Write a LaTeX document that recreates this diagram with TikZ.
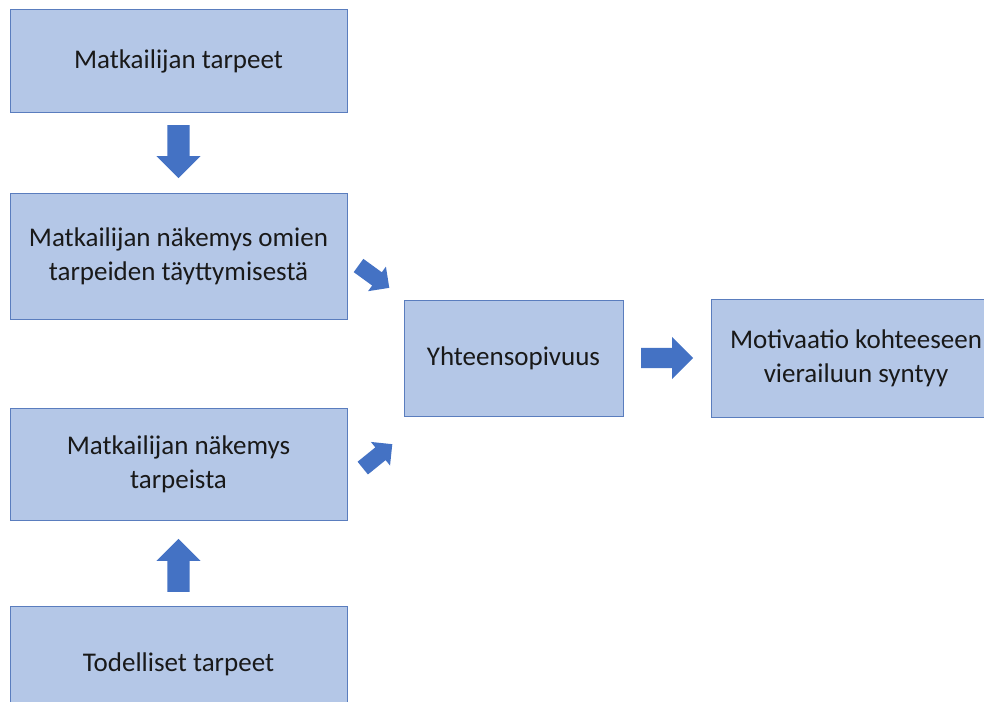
\documentclass[tikz,border=0pt]{standalone}
\usepackage{fontspec}
\setmainfont{Carlito}
\usetikzlibrary{shapes.arrows, positioning, calc}

\definecolor{boxfill}{HTML}{B4C7E7}
\definecolor{boxline}{HTML}{5A7DBE}
\definecolor{arrowfill}{HTML}{4472C4}

\begin{document}
\begin{tikzpicture}[
    x=1pt, y=-1pt,
    box/.style={
        rectangle,
        draw=boxline,
        line width=1pt,
        align=center,
        inner sep=0pt,
        minimum width=337pt,
        fill=boxfill,
        text=black!90,
        font=\fontsize{27}{34}\selectfont
    },
    bigarrow/.style={
        single arrow,
        fill=arrowfill,
        anchor=tip,
        inner xsep=0pt,
        inner ysep=11pt,
        minimum height=53pt,
        single arrow head extend=11pt
    },
    smallarrow/.style={
        bigarrow,
        inner ysep=8pt,
        minimum height=38pt,
        single arrow head extend=7pt
    }
]

\clip (0,0) rectangle (984,701);

\node[box, minimum height=102pt] (tarpeet) at (178.5,61) {Matkailijan tarpeet};
\node[box, minimum height=126pt, below=80pt of tarpeet] (omien) {Matkailijan näkemys omien\\tarpeiden täyttymisestä};
\node[box, minimum height=112pt, below=88pt of omien] (nakemys) {Matkailijan näkemys\\tarpeista};
\node[box, minimum height=117pt, below=85pt of nakemys] (todelliset) {Todelliset tarpeet};
\node[box, minimum width=219pt, minimum height=116pt] (yhteen) at (513.5,358) {Yhteensopivuus};
\node[box, minimum width=290pt, minimum height=118pt, right=87pt of yhteen] (motivaatio) {Motivaatio kohteeseen\\vierailuun syntyy};

% block arrows, placed by their tips
\node[bigarrow, rotate=-90] (arrA) at ($(omien.north)+(0,-14)$) {};
\node[bigarrow, rotate=90] (arrB) at ($(nakemys.south)+(0,18)$) {};
\node[smallarrow, rotate=-36] (arrC) at ($(yhteen.west)+(-14,-70)$) {};
\node[smallarrow, rotate=39] (arrD) at ($(yhteen.west)+(-11,86)$) {};
\node[bigarrow, inner ysep=10pt, minimum height=52pt] (arrE) at ($(motivaatio.west)+(-17,0)$) {};

\end{tikzpicture}
\end{document}
